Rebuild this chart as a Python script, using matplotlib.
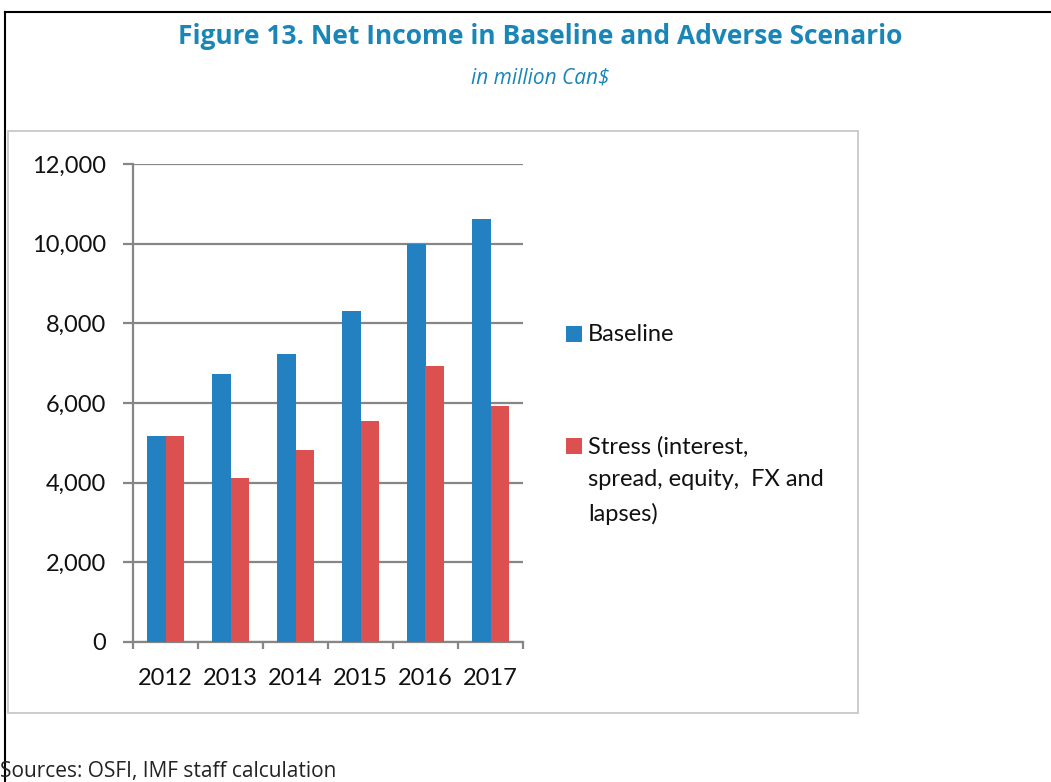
import numpy as np
import matplotlib.pyplot as plt
from matplotlib.patches import Rectangle
from matplotlib.lines import Line2D

# --- Данни (млн. канадски долара) ---
years = ["2012", "2013", "2014", "2015", "2016", "2017"]
baseline = [5160, 6720, 7220, 8320, 9980, 10630]
stress = [5160, 4110, 4810, 5560, 6920, 5915]

series_names = ["Baseline", "Stress (interest,\nspread, equity,  FX and\nlapses)"]
title = "Figure 13. Net Income in Baseline and Adverse Scenario"
subtitle = "in million Can$"
source = "Sources: OSFI, IMF staff calculation"

BLUE = "#2381c2"
RED = "#dd5050"
TEAL = "#1a86b8"
GRID = "#868686"
FONT = "Lato"

W, H = 1051, 782
fig = plt.figure(figsize=(W / 100, H / 100), dpi=100)


def fx(px):
    return px / W


def fy(py):
    return 1 - py / H


# рамки около фигурата
fig.add_artist(Line2D([fx(5), 1], [fy(12), fy(12)], color="black", lw=1.5))
fig.add_artist(Line2D([fx(5), fx(5)], [fy(12), 0], color="black", lw=1.5))
fig.add_artist(Rectangle((fx(8), fy(713)), fx(858) - fx(8), fy(131) - fy(713),
                         fill=False, edgecolor="#c8c8c8", lw=1.3))

fig.text(fx(540), fy(36), title, ha="center", va="center", color=TEAL,
         fontsize=19, fontweight="bold", family="Open Sans")
fig.text(fx(540), fy(78), subtitle, ha="center", va="center", color=TEAL,
         fontsize=15, style="italic", family="Open Sans")
fig.text(fx(0), fy(771), source, ha="left", va="center", color="#222222",
         fontsize=15, family="Open Sans")

# --- Графика ---
ax = fig.add_axes([fx(133), fy(642), fx(523) - fx(133), fy(164) - fy(642)])
x = np.arange(len(years))
bw = 0.29
bars = [ax.bar(x - bw / 2, baseline, bw, color=BLUE, zorder=3),
        ax.bar(x + bw / 2, stress, bw, color=RED, zorder=3)]

ax.set_xlim(-0.5, len(years) - 0.5)
ax.set_ylim(0, 12000)
ax.set_yticks(np.arange(0, 12001, 2000))
ax.set_yticklabels([f"{v:,}" for v in range(0, 12001, 2000)])
ax.yaxis.grid(True, color=GRID, lw=1.6, zorder=0)
ax.set_xticks(x)
ax.set_xticklabels(years)
ax.set_xticks(np.arange(-0.5, len(years), 1), minor=True)
ax.tick_params(axis="x", which="major", length=0, pad=19)
ax.tick_params(axis="x", which="minor", length=5, width=1.6, color=GRID)
ax.tick_params(axis="y", length=7.5, width=1.6, color=GRID, pad=12)
for lab in ax.get_xticklabels() + ax.get_yticklabels():
    lab.set_fontsize(17)
    lab.set_family(FONT)
    lab.set_color("#111111")

for s in ["top", "right"]:
    ax.spines[s].set_visible(False)
for s in ["left", "bottom"]:
    ax.spines[s].set_color(GRID)
    ax.spines[s].set_linewidth(1.6)

# легенда: квадрат до първия ред на всеки надпис
leg_tops = [326, 438]
for name, top, color in zip(series_names, leg_tops, [BLUE, RED]):
    fig.add_artist(Rectangle((fx(566), fy(top + 16)), fx(16), 16 / H,
                             facecolor=color, edgecolor="none"))
    fig.text(fx(588), fy(top - 2), name, ha="left", va="top", color="#111111",
             fontsize=17, family=FONT, linespacing=1.7)

fig.savefig("out.png", dpi=100)
